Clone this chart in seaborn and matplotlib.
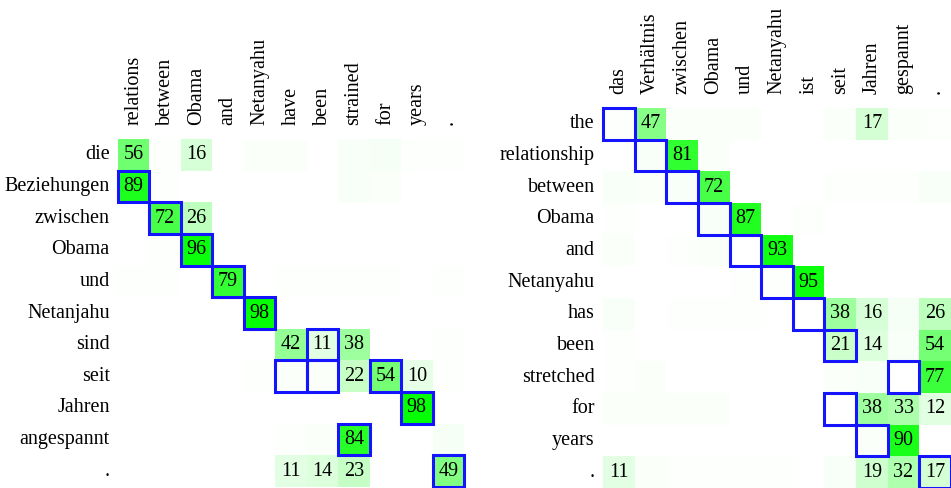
import numpy as np
import matplotlib
matplotlib.use("Agg")
import matplotlib.pyplot as plt
import seaborn as sns
from matplotlib.colors import LinearSegmentedColormap
from matplotlib.patches import Rectangle

sns.set_style("white")
plt.rcParams['font.family'] = ['Liberation Serif', 'DejaVu Serif']
plt.rcParams['text.color'] = 'black'
plt.rcParams['xtick.color'] = 'black'
plt.rcParams['ytick.color'] = 'black'

# left: German source rows vs English target columns
left_rows = ["die", "Beziehungen", "zwischen", "Obama", "und", "Netanjahu",
             "sind", "seit", "Jahren", "angespannt", "."]
left_cols = ["relations", "between", "Obama", "and", "Netanyahu", "have",
             "been", "strained", "for", "years", "."]
left_vals = [
    [56, 1, 16, 0, 2, 2, 0, 3, 4, 1, 1],
    [89, 1, 0, 0, 0, 0, 0, 3, 2, 0, 0],
    [0, 72, 26, 0, 0, 0, 0, 0, 0, 0, 0],
    [0, 1, 96, 0, 0, 0, 0, 0, 0, 0, 0],
    [1, 1, 0, 79, 0, 1, 1, 1, 1, 0, 1],
    [0, 0, 0, 0, 98, 0, 0, 0, 0, 0, 0],
    [0, 0, 0, 0, 0, 42, 11, 38, 0, 0, 1],
    [0, 0, 0, 0, 1, 2, 2, 22, 54, 10, 1],
    [0, 0, 0, 0, 0, 0, 0, 0, 0, 98, 0],
    [0, 0, 0, 0, 0, 1, 2, 84, 0, 0, 4],
    [0, 0, 0, 0, 0, 11, 14, 23, 0, 0, 49],
]
left_align = [(1, 0), (2, 1), (3, 2), (4, 3), (5, 4), (6, 6), (7, 5), (7, 6),
              (7, 8), (8, 9), (9, 7), (10, 10)]

# right: English rows vs German columns
right_rows = ["the", "relationship", "between", "Obama", "and", "Netanyahu",
              "has", "been", "stretched", "for", "years", "."]
right_cols = ["das", "Verhältnis", "zwischen", "Obama", "und", "Netanyahu",
              "ist", "seit", "Jahren", "gespannt", "."]
right_vals = [
    [1, 47, 2, 2, 2, 0, 0, 2, 17, 2, 1],
    [0, 3, 81, 2, 0, 0, 0, 0, 0, 0, 0],
    [3, 2, 3, 72, 0, 0, 0, 1, 1, 1, 3],
    [1, 0, 0, 3, 87, 0, 1, 0, 0, 0, 0],
    [2, 0, 1, 2, 0, 93, 0, 0, 0, 0, 0],
    [0, 0, 0, 0, 1, 1, 95, 0, 0, 0, 0],
    [3, 0, 1, 1, 1, 0, 0, 38, 16, 4, 26],
    [1, 0, 0, 0, 0, 0, 0, 21, 14, 3, 54],
    [1, 2, 0, 0, 0, 0, 0, 2, 3, 0, 77],
    [2, 2, 2, 2, 0, 0, 0, 0, 38, 33, 12],
    [0, 0, 0, 0, 0, 0, 0, 0, 2, 90, 0],
    [11, 2, 1, 1, 1, 1, 0, 3, 19, 32, 17],
]
right_align = [(0, 0), (1, 1), (2, 2), (3, 3), (4, 4), (5, 5), (6, 6), (7, 7),
               (8, 9), (9, 7), (10, 8), (11, 10)]

cmap = LinearSegmentedColormap.from_list("wg", ["#ffffff", "#00ff00"])


def attn_plot(ax, vals, rows, cols, align):
    vals = np.array(vals)
    labels = np.where(vals >= 10, vals.astype(str), "")
    sns.heatmap(vals, ax=ax, cmap=cmap, vmin=0, vmax=100, cbar=False,
                annot=labels, fmt="", annot_kws={"fontsize": 14.5, "color": "black"},
                xticklabels=cols, yticklabels=rows, square=False)
    ax.xaxis.tick_top()
    ax.tick_params(length=0, labelsize=14.5, labelcolor="black")
    ax.tick_params(axis="x", pad=10, rotation=90)
    ax.tick_params(axis="y", pad=6, rotation=0)
    for r, c in align:
        ax.add_patch(Rectangle((c, r), 1, 1, fill=False, edgecolor="#1414ff",
                               lw=2.2, clip_on=False, zorder=5))


fig = plt.figure(figsize=(9.51, 4.88), dpi=100)
ax1 = fig.add_axes([0.1241, 0.002, 0.3638, 0.713])
ax2 = fig.add_axes([0.634, 0.0, 0.366, 0.7787])
attn_plot(ax1, left_vals, left_rows, left_cols, left_align)
attn_plot(ax2, right_vals, right_rows, right_cols, right_align)

fig.savefig("out.png", dpi=100)
